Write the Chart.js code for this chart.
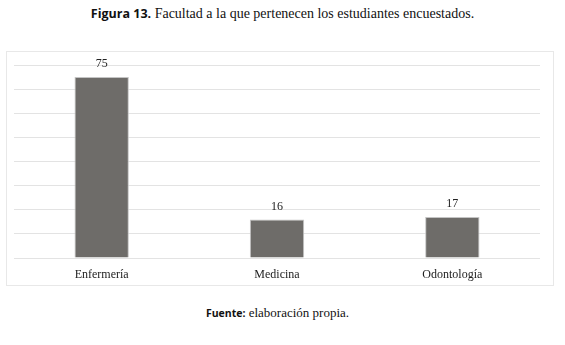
<!DOCTYPE html>
<html><head><meta charset="utf-8">
<script src="https://cdn.jsdelivr.net/npm/chart.js@4"></script>
<style>
html,body{margin:0;padding:0;background:#fff;width:565px;height:345px;overflow:hidden;}
.cap{position:absolute;left:0;width:565px;text-align:center;white-space:nowrap;color:#111;}
.b{font-family:"Open Sans",sans-serif;font-weight:700;}
.s{font-family:"Liberation Serif",serif;}
#title{top:5px;font-size:14px;}
#title .b{font-size:12.5px;}
#foot{top:305px;font-size:13px;left:-5px;}
#foot .b{font-size:10.5px;}
#box{position:absolute;left:6px;top:51px;width:548px;height:235px;border:1px solid #e8e8e8;box-sizing:border-box;}
#box canvas{display:block;}
</style></head><body>
<div id="title" class="cap"><span class="b">Figura 13.</span> <span class="s">Facultad a la que pertenecen los estudiantes encuestados.</span></div>
<div id="box"><canvas id="c" width="546" height="233"></canvas></div>
<div id="foot" class="cap"><span class="b">Fuente:</span> <span class="s">elaboración propia.</span></div>
<script>
const categories = ["Enfermería", "Medicina", "Odontología"];
const counts = [75, 16, 17];
const yTicks = [0, 10, 20, 30, 40, 50, 60, 70, 80];

const valueLabels = {
  id: 'valueLabels',
  afterDatasetsDraw(chart) {
    const ctx = chart.ctx;
    ctx.save();
    ctx.font = '12px "Liberation Serif", serif';
    ctx.fillStyle = '#222';
    ctx.textAlign = 'center';
    ctx.textBaseline = 'middle';
    chart.getDatasetMeta(0).data.forEach((bar, i) => {
      ctx.fillText(String(counts[i]), bar.x, bar.y - 13);
    });
    ctx.restore();
  }
};

new Chart(document.getElementById('c'), {
  type: 'bar',
  data: {
    labels: categories,
    datasets: [{
      data: counts,
      backgroundColor: '#6e6c69',
      borderColor: '#c4c4c4',
      borderWidth: 1,
      categoryPercentage: 1,
      barPercentage: 0.31
    }]
  },
  options: {
    responsive: false,
    animation: false,
    events: [],
    layout: { padding: { left: 7, right: 13, top: 13, bottom: 0 } },
    plugins: { legend: { display: false }, tooltip: { enabled: false } },
    scales: {
      x: {
        grid: { display: false },
        border: { display: false },
        afterFit(axis) { axis.height = 27; },
        ticks: { color: '#222', font: { family: '"Liberation Serif", serif', size: 12 }, padding: 2 }
      },
      y: {
        min: 0, max: 80,
        afterBuildTicks(axis) { axis.ticks = yTicks.map(v => ({ value: v })); },
        ticks: { display: false },
        grid: { color: '#e3e3e3', drawTicks: false },
        border: { display: false }
      }
    }
  },
  plugins: [valueLabels]
});
</script>
</body></html>
